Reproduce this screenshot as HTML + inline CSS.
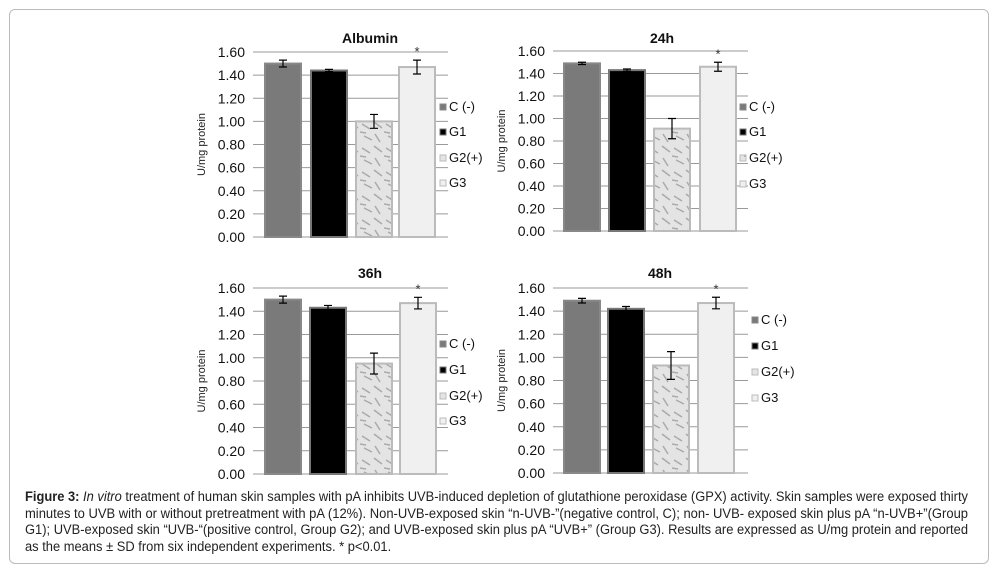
<!DOCTYPE html>
<html><head><meta charset="utf-8">
<style>
body{margin:0;background:#fff;width:1000px;height:576px;overflow:hidden;font-family:"Liberation Sans",sans-serif}
#frame{position:absolute;left:9px;top:9px;width:978px;height:553px;border:1px solid #bbb;border-radius:6px}
#cap{position:absolute;left:25px;top:489px;font-size:13.5px;line-height:16.7px;color:#222}
#cap div{white-space:nowrap;transform-origin:left top;display:block;width:max-content}
svg{position:absolute;left:0;top:0}
</style></head><body>
<div id="frame"></div>
<svg id="s" width="1000" height="576">
<defs>
<pattern id="marble" width="24" height="24" patternUnits="userSpaceOnUse">
<rect width="24" height="24" fill="#e4e4e4"/>
<path d="M2 4 L10 9 M14 2 L22 8 M4 16 L12 20 M15 14 L20 22 M0 12 L6 13" stroke="#aaa" stroke-width="1.5"/>
</pattern>
</defs>
</svg>
<div id="cap">
<div class="ln"><b>Figure 3:</b> <i>In vitro</i> treatment of human skin samples with pA inhibits UVB-induced depletion of glutathione peroxidase (GPX) activity. Skin samples were exposed thirty</div>
<div class="ln">minutes to UVB with or without pretreatment with pA (12%). Non-UVB-exposed skin “n-UVB-”(negative control, C); non- UVB- exposed skin plus pA “n-UVB+”(Group</div>
<div class="ln">G1); UVB-exposed skin “UVB-“(positive control, Group G2); and UVB-exposed skin plus pA “UVB+” (Group G3). Results are expressed as U/mg protein and reported</div>
<div id="last">as the means ± SD from six independent experiments. * p&lt;0.01.</div>
</div>
<script>
const categories=["C (-)","G1","G2(+)","G3"];
const titles=["Albumin","24h","36h","48h"];
const valsAlb=[1.50,1.44,1.00,1.47];
const errAlb=[0.03,0.01,0.06,0.06];
const vals24=[1.49,1.43,0.91,1.46];
const err24=[0.01,0.01,0.09,0.04];
const vals36=[1.50,1.43,0.95,1.47];
const err36=[0.03,0.02,0.09,0.05];
const vals48=[1.49,1.42,0.93,1.47];
const err48=[0.02,0.02,0.12,0.05];
const ticks=[0,0.2,0.4,0.6,0.8,1.0,1.2,1.4,1.6];
const series=[[valsAlb,errAlb],[vals24,err24],[vals36,err36],[vals48,err48]];
const panels=[
 {x0:253,x1:448,y0:237,y1:52,bx:[265,311,356,399],lx:440,ly:[110,135,161,186],tx:370,ty:43},
 {x0:553,x1:748,y0:231,y1:51,bx:[564,609,654,700],lx:740,ly:[110,135,161,187],tx:662,ty:43},
 {x0:253,x1:448,y0:474,y1:288,bx:[265,310,356,400],lx:440,ly:[347,373,399,424],tx:370,ty:278},
 {x0:553,x1:748,y0:473,y1:288,bx:[564,608,653,698],lx:752,ly:[323,349,375,401],tx:660,ty:278}];
const fills=["#7a7a7a","#000","url(#marble)","#f0f0f0"];
const strokes=["#888","#777","#bbb","#bbb"];
const S=document.getElementById('s');const NS="http://www.w3.org/2000/svg";
function mk(t,a,txt){const e=document.createElementNS(NS,t);for(const k in a)e.setAttribute(k,a[k]);if(txt!==undefined)e.textContent=txt;S.appendChild(e);return e;}
panels.forEach((p,pi)=>{
 const y=v=>p.y0+(p.y1-p.y0)*v/1.6;
 ticks.forEach(t=>{
  const g=mk('line',{x1:p.x0,x2:p.x1,y1:y(t),y2:y(t),stroke:'#999','stroke-width':1});
  
  const l=mk('text',{x:p.x0-8,y:y(t)+5,'text-anchor':'end','font-size':14,fill:'#111'},t.toFixed(2));
  
 });
 const yt=mk('text',{transform:`translate(${p.x0-48},${(p.y0+p.y1)/2}) rotate(-90)`,'text-anchor':'middle','font-size':11,fill:'#222'},'U/mg protein');
 
 const tt=mk('text',{x:p.tx,y:p.ty,'text-anchor':'middle','font-size':14,'font-weight':'bold',fill:'#111'},titles[pi]);
 
 const [vals,errs]=series[pi];
 vals.forEach((v,i)=>{
  const bx=p.bx[i],w=36;
  const b=mk('rect',{x:bx,y:y(v),width:w,height:p.y0-y(v),fill:fills[i],stroke:strokes[i],'stroke-width':2});
  
  
  const cx=bx+w/2,ya=y(v+errs[i]),yb=y(v-errs[i]);
  const e=mk('path',{d:`M${cx} ${ya}V${yb}M${cx-4} ${ya}H${cx+4}M${cx-4} ${yb}H${cx+4}`,stroke:'#000','stroke-width':1.2,fill:'none'});
  
  if(i===3){const st=mk('text',{x:cx,y:ya-4,'text-anchor':'middle','font-size':13,fill:'#333'},'*');
   }
  const sw=mk('rect',{x:p.lx,y:p.ly[i]-6,width:6,height:6,fill:fills[i],stroke:strokes[i]});
  
  const lt=mk('text',{x:p.lx+9,y:p.ly[i]+1,'font-size':13,fill:'#111'},categories[i]);
  
 });
});
let sc=1;
document.querySelectorAll('#cap .ln').forEach(d=>{const w=d.getBoundingClientRect().width;const s=943/w;sc=s;d.style.transform=`scaleX(${s})`;});
document.getElementById('last').style.transform=`scaleX(${sc})`;
</script>
</body></html>
